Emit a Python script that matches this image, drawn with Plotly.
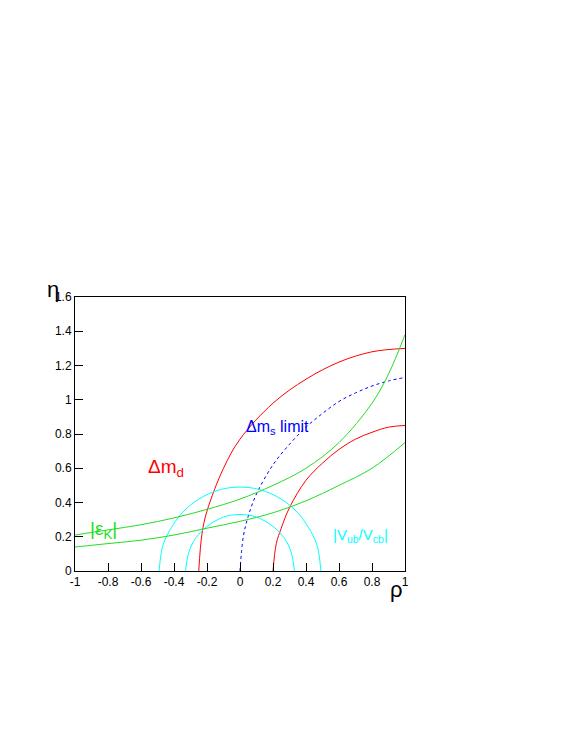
import plotly.graph_objects as go

# curves (rho, eta)
dmd_outer_rho = [-0.25, -0.23, -0.2, -0.1, 0.0, 0.2, 0.4, 0.6, 0.8, 1.0]
dmd_outer_eta = [0.0, 0.22, 0.35, 0.6, 0.77, 0.98, 1.12, 1.22, 1.28, 1.3]
dmd_inner_rho = [0.2, 0.22, 0.25, 0.3, 0.4, 0.5, 0.6, 0.7, 0.8, 0.9, 1.0]
dmd_inner_eta = [0.0, 0.16, 0.25, 0.37, 0.53, 0.63, 0.71, 0.77, 0.81, 0.84, 0.85]
dms_rho = [0.0, 0.02, 0.05, 0.1, 0.2, 0.3, 0.4, 0.5, 0.6, 0.7, 0.8, 0.9, 1.0]
dms_eta = [0.0, 0.2, 0.32, 0.45, 0.62, 0.74, 0.84, 0.92, 0.99, 1.04, 1.08, 1.11, 1.13]
vub_outer_rho = [-0.49, -0.47, -0.43, -0.35, -0.25, -0.12, 0.0, 0.12, 0.25, 0.35, 0.43, 0.47, 0.49]
vub_outer_eta = [0.0, 0.14, 0.23, 0.34, 0.42, 0.475, 0.49, 0.475, 0.42, 0.34, 0.23, 0.14, 0.0]
vub_inner_rho = [-0.33, -0.31, -0.27, -0.2, -0.1, 0.0, 0.1, 0.2, 0.27, 0.31, 0.33]
vub_inner_eta = [0.0, 0.11, 0.19, 0.26, 0.315, 0.33, 0.315, 0.26, 0.19, 0.11, 0.0]
epsk_hi_rho = [-1.0, -0.8, -0.6, -0.4, -0.2, 0.0, 0.2, 0.4, 0.6, 0.8, 0.9, 1.0]
epsk_hi_eta = [0.21, 0.24, 0.27, 0.31, 0.36, 0.42, 0.5, 0.6, 0.75, 0.98, 1.15, 1.38]
epsk_lo_rho = [-1.0, -0.8, -0.6, -0.4, -0.2, 0.0, 0.2, 0.4, 0.6, 0.8, 1.0]
epsk_lo_eta = [0.14, 0.16, 0.18, 0.21, 0.25, 0.29, 0.34, 0.41, 0.5, 0.6, 0.75]

x_ticks = [-1, -0.8, -0.6, -0.4, -0.2, 0, 0.2, 0.4, 0.6, 0.8, 1]
y_ticks = [0, 0.2, 0.4, 0.6, 0.8, 1, 1.2, 1.4, 1.6]

fig = go.Figure()
def curve(x, y, color, dash="solid"):
    fig.add_trace(go.Scatter(x=x, y=y, mode="lines", line=dict(color=color, width=1, dash=dash, shape="spline"),
                             showlegend=False, hoverinfo="skip"))

curve(dmd_outer_rho, dmd_outer_eta, "red")
curve(dmd_inner_rho, dmd_inner_eta, "red")
curve(dms_rho, dms_eta, "blue", "3px,3px")
curve(vub_outer_rho, vub_outer_eta, "cyan")
curve(vub_inner_rho, vub_inner_eta, "cyan")
curve(epsk_hi_rho, epsk_hi_eta, "#22dd22")
curve(epsk_lo_rho, epsk_lo_eta, "#22dd22")

def label(x, y, text, color, size=17):
    fig.add_annotation(x=x, y=y, text=text, showarrow=False, font=dict(color=color, size=size))

label(-0.45, 0.6, "Δm<sub>d</sub>", "red", 19)
label(0.23, 0.84, "Δm<sub>s</sub> limit", "blue", 16)
label(-0.83, 0.24, "|ε<sub>K</sub>|", "#22dd22", 19)
label(0.73, 0.21, "|V<sub>ub</sub>/V<sub>cb</sub>|", "cyan", 15)

axis = dict(showgrid=False, zeroline=False, showline=True, mirror=True, linecolor="black", automargin=False,
            ticks="inside", ticklen=8, tickcolor="black", tickfont=dict(size=12, color="black"))
fig.update_xaxes(range=[-1, 1], tickvals=x_ticks, ticktext=[f"{v:g}" for v in x_ticks], **axis)
fig.update_yaxes(range=[0, 1.6], tickvals=y_ticks, ticktext=[f"{v:g}" for v in y_ticks], **axis)
fig.add_annotation(xref="paper", yref="paper", x=1.0, y=-0.12, text="ρ", showarrow=False,
                   font=dict(size=22, color="black"))
fig.add_annotation(xref="paper", yref="paper", x=-0.09, y=1.08, text="η", showarrow=False,
                   font=dict(size=22, color="black"))
fig.update_layout(width=572, height=740, plot_bgcolor="white", paper_bgcolor="white",
                  font=dict(family="Liberation Sans"),
                  margin=dict(l=67, r=175, t=289, b=177, autoexpand=False))
fig.write_html("out.html")
